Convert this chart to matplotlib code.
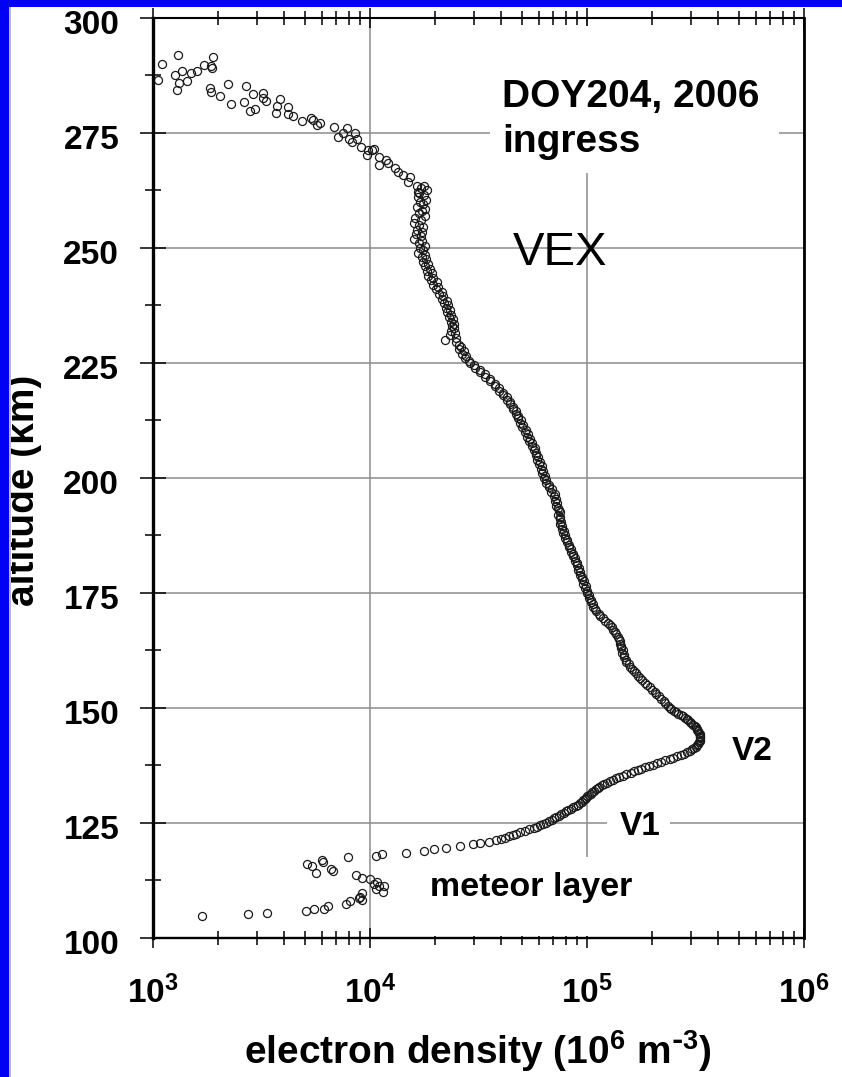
import numpy as np
import matplotlib
matplotlib.use("Agg")
import matplotlib.pyplot as plt
from matplotlib.patches import Rectangle
from matplotlib.ticker import FixedLocator, LogLocator, NullFormatter
import matplotlib.transforms as mtransforms

plt.rcParams['font.family'] = ['Liberation Sans', 'DejaVu Sans']
plt.rcParams['font.weight'] = 'bold'
plt.rcParams['mathtext.default'] = 'regular'

# ---------------- data (electron density in units of 1e3 x 1e6 m^-3) ----------------
# sparse points above the main layer
upper_alt = [286.5, 290.1, 292.0, 287.7, 288.5, 285.9, 284.3, 286.3, 288.0, 288.5,
             289.8, 291.6, 289.6, 289.1, 284.8, 284.0, 283.0, 285.6, 281.3, 285.2,
             281.7, 283.5, 279.8, 280.2, 283.8, 282.7, 282.0, 279.4, 280.9, 282.3,
             280.6, 279.1, 278.7, 277.7, 278.3, 277.8, 276.7, 277.2, 276.2, 274.2,
             275.1, 276.0, 273.8, 273.1, 274.9, 273.6, 272.0, 270.2, 271.3, 271.3,
             271.6, 269.7, 268.0, 269.2, 268.5, 267.3, 266.6, 265.9, 264.4, 265.5,
             263.4, 262.1]
upper_n = [1.05, 1.10, 1.31, 1.26, 1.36, 1.32, 1.29, 1.43, 1.50, 1.59,
           1.72, 1.90, 1.86, 1.88, 1.83, 1.86, 2.04, 2.22, 2.29, 2.68,
           2.63, 2.88, 2.80, 2.95, 3.20, 3.22, 3.31, 3.69, 3.71, 3.85,
           4.17, 4.20, 4.40, 4.84, 5.35, 5.45, 5.68, 5.88, 6.84, 7.14,
           7.48, 7.81, 8.03, 8.23, 8.53, 8.69, 9.06, 9.66, 9.83, 10.2,
           10.4, 11.0, 11.0, 11.9, 12.1, 13.0, 13.5, 14.2, 15.0, 15.3,
           16.4, 16.6]

# dense profile: topside down to the V2 peak and the V1 layer
profile_alt = [
    263.5, 263.0, 262.5, 262.0, 261.5, 261.0, 260.5, 260.0, 259.5, 259.0,
    258.5, 258.0, 257.5, 257.0, 256.5, 256.0, 255.5, 255.0, 254.5, 254.0,
    253.5, 253.0, 252.5, 252.0, 251.5, 251.0, 250.5, 250.0, 249.5, 249.0,
    248.5, 248.0, 247.5, 247.0, 246.5, 246.0, 245.5, 245.0, 244.5, 244.0,
    243.5, 243.0, 242.5, 242.0, 241.5, 241.0, 240.5, 240.0, 239.5, 239.0,
    238.5, 238.0, 237.5, 237.0, 236.5, 236.0, 235.5, 235.0, 234.5, 234.0,
    233.5, 233.0, 232.5, 232.0, 231.5, 231.0, 230.5, 230.0, 229.5, 229.0,
    228.5, 228.0, 227.5, 227.0, 226.5, 226.0, 225.5, 225.0,
    224.5, 224.0, 223.5, 223.0, 222.5, 222.0, 221.5, 221.0, 220.5, 220.0,
    219.5, 219.0, 218.5, 218.0, 217.5, 217.0, 216.5, 216.0, 215.5, 215.0,
    214.5, 214.0, 213.5, 213.0, 212.5, 212.0, 211.5, 211.0, 210.5, 210.0,
    209.5, 209.0, 208.5, 208.0, 207.5, 207.0, 206.5, 206.0, 205.5, 205.0,
    204.5, 204.0, 203.5, 203.0, 202.5, 202.0, 201.5, 201.0, 200.5, 200.0,
    199.5, 199.0, 198.5, 198.0, 197.5, 197.0, 196.5, 196.0, 195.5, 195.0,
    194.5, 194.0, 193.5, 193.0, 192.5, 192.0, 191.5, 191.0, 190.5, 190.0,
    189.5, 189.0, 188.5, 188.0, 187.5, 187.0, 186.5, 186.0, 185.5, 185.0,
    184.5, 184.0, 183.5, 183.0, 182.5, 182.0, 181.5, 181.0, 180.5, 180.0,
    179.5, 179.0, 178.5, 178.0, 177.5, 177.0, 176.5, 176.0, 175.5, 175.0,
    174.5, 174.0, 173.5, 173.0, 172.5, 172.0, 171.5, 171.0, 170.5, 170.0,
    169.5, 169.0, 168.5, 168.0, 167.5, 167.0, 166.5, 166.0, 165.5, 165.0,
    164.5, 164.0, 163.5, 163.0, 162.5, 162.0, 161.5, 161.0, 160.5, 160.0,
    159.5, 159.0, 158.5, 158.0, 157.5, 157.0, 156.5, 156.0, 155.5, 155.0,
    154.5, 154.0, 153.5, 153.0, 152.5, 152.0, 151.5, 151.0, 150.5, 150.0,
    149.7, 149.4, 149.1, 148.8, 148.5, 148.2, 147.9, 147.6, 147.3, 147.0,
    146.7, 146.4, 146.1, 145.8, 145.5, 145.2, 144.9, 144.6, 144.3, 144.0,
    143.7, 143.4, 143.1, 142.8, 142.5, 142.2, 141.9, 141.6, 141.3, 141.0,
    140.7, 140.4, 140.1, 139.8, 139.5, 139.2, 138.9, 138.6, 138.3, 138.0,
    137.7, 137.4, 137.1, 136.8, 136.5, 136.2, 135.9, 135.6, 135.3, 135.0,
    134.7, 134.4, 134.1, 133.8, 133.5, 133.2, 132.9, 132.6, 132.3, 132.0,
    131.7, 131.4, 131.1, 130.8, 130.5, 130.2, 129.9, 129.6, 129.3, 129.0,
    128.7, 128.4, 128.1, 127.8, 127.5, 127.2, 126.9, 126.6, 126.3, 126.0,
    125.7, 125.4, 125.1, 124.8, 124.5, 124.2, 123.9, 123.6, 123.3, 123.0,
    122.7]
profile_n = [
    17.8, 17.2, 18.3, 16.9, 17.8, 16.6, 18.1, 17.0, 17.6, 16.4,
    18.0, 17.3, 16.8, 17.9, 16.2, 17.1, 15.9, 16.8, 17.6, 16.5,
    17.4, 16.3, 17.1, 16.0, 17.3, 16.8, 17.9, 17.0, 17.5, 16.7,
    18.0, 17.4, 18.2, 17.6, 18.6, 17.9, 18.9, 18.3, 19.3, 18.6,
    19.6, 19.2, 20.3, 19.6, 20.5, 20.2, 21.4, 20.8, 21.8, 21.4,
    22.6, 22.0, 22.8, 22.3, 23.3, 22.7, 23.7, 23.2, 24.1, 23.5,
    24.4, 23.8, 24.5, 23.7, 24.6, 23.4, 24.9, 22.2, 25.0, 25.6,
    26.3, 25.8, 27.0, 26.6, 27.8, 27.5, 28.7, 28.9,
    30.2, 30.5, 32.1, 32.2, 33.9, 33.8, 35.6, 35.7, 37.6, 37.7,
    39.4, 39.3, 41.2, 41.0, 42.9, 42.7, 44.3, 44.2, 45.8, 45.6,
    47.2, 47.1, 48.3, 48.0, 49.4, 49.1, 50.6, 50.4, 52.1, 51.8,
    53.2, 52.9, 54.5, 54.0, 55.9, 55.5, 57.4, 57.0, 58.3, 57.9,
    59.4, 58.8, 60.5, 60.1, 61.9, 61.5, 62.6, 62.3, 63.9, 63.4,
    65.0, 64.8, 67.1, 66.8, 68.7, 68.5, 70.9, 70.4, 71.6, 71.3,
    72.5, 72.0, 73.8, 74.5, 74.9, 73.6, 75.1, 74.8, 76.0, 75.2,
    76.9, 76.5, 78.2, 77.6, 79.5, 79.2, 81.3, 80.8, 82.6, 82.4,
    84.6, 84.4, 86.2, 86.0, 88.1, 88.0, 89.6, 89.5, 91.4, 90.9,
    93.0, 92.7, 95.2, 94.9, 96.8, 96.3, 98.5, 98.0, 100.2, 99.6,
    102.3, 101.8, 104.5, 104.0, 106.1, 106.3, 109.0, 110.5, 113.5, 115.0,
    118.5, 121.0, 124.5, 127.0, 130.0, 132.0, 135.0, 136.0, 139.0, 140.5,
    142.5, 141.5, 144.0, 143.5, 146.0, 145.5, 148.0, 147.5, 151.0, 152.0,
    155.5, 157.0, 161.0, 164.0, 168.0, 171.0, 176.0, 180.0, 185.0, 190.0,
    195.0, 200.0, 205.0, 209.0, 215.0, 220.0, 226.0, 230.0, 236.0, 240.0,
    245, 251, 257, 263, 270, 276, 282, 288, 293, 298,
    303, 308, 313, 317, 320, 323, 326, 328, 330, 331,
    332, 333, 332, 331, 328, 325, 321, 318, 312, 305,
    297, 289, 280, 270, 260, 250, 240, 230, 220, 210,
    201, 193, 185, 178, 172, 165, 159, 152, 146, 140,
    136, 132, 127, 123, 120, 117, 114, 112, 110, 108,
    106, 104, 102, 100.5, 98.9, 97.7, 96.2, 94.4, 92.5, 90.9,
    88.6, 86.4, 84.2, 82.1, 80.0, 78.0, 76.1, 74.2, 72.3, 70.5,
    68.7, 66.8, 64.7, 62.7, 60.7, 58.8, 56.9, 54.3, 51.8, 49.1,
    47.0]

# bottomside chain below V1
lower_alt = [122.4, 122.1, 121.8, 121.5, 121.2, 120.9, 120.7, 120.4, 120.0, 119.6,
             119.3, 118.9, 118.5, 118.3, 117.8]
lower_n = [45.5, 43.6, 42.0, 40.2, 38.0, 35.3, 32.1, 29.9, 25.9, 22.3,
           19.8, 17.8, 14.6, 11.4, 10.7]

# meteor layer points
meteor_alt = [104.8, 105.2, 105.5, 105.9, 106.4, 106.2, 107.0, 107.5, 108.1, 108.6,
              108.3, 109.7, 109.0, 113.6, 113.1, 112.8, 112.2, 111.2, 111.3, 110.1,
              110.6, 111.8, 116.1, 115.7, 114.2, 117.0, 116.6, 115.1, 114.6, 117.5]
meteor_n = [1.69, 2.75, 3.34, 5.05, 5.52, 6.17, 6.41, 7.78, 8.13, 8.86,
            9.21, 9.14, 8.95, 8.61, 9.21, 9.95, 10.77, 10.99, 11.65, 11.42,
            10.69, 10.40, 5.10, 5.41, 5.63, 5.98, 6.09, 6.59, 6.77, 7.93]

y_ticks = [100, 125, 150, 175, 200, 225, 250, 275, 300]
x_ticks = [1e3, 1e4, 1e5, 1e6]

# ---------------- figure ----------------
W, H = 842, 1077
fig = plt.figure(figsize=(W / 100, H / 100), dpi=100)
fig.patch.set_facecolor('white')
ax = fig.add_axes([153 / W, 139 / H, 651 / W, 920 / H])

# blue frame pieces (left and top)
fig.add_artist(Rectangle((0, 0), 9 / W, 1, transform=fig.transFigure,
                         facecolor='#0000f5', edgecolor='none', zorder=10))
fig.add_artist(Rectangle((0, 1 - 7 / H), 1, 7 / H, transform=fig.transFigure,
                         facecolor='#0000f5', edgecolor='none', zorder=10))
fig.add_artist(Rectangle((9 / W, 0), 2 / W, 1 - 7 / H, transform=fig.transFigure,
                         facecolor='#b8b8b8', edgecolor='none', zorder=10))

mk = dict(linestyle='none', marker='o', markerfacecolor='none',
          markeredgecolor='#1a1a1a', markersize=5.8, markeredgewidth=0.9, zorder=2)
for alt, n in [(upper_alt, upper_n), (profile_alt, profile_n),
               (lower_alt, lower_n), (meteor_alt, meteor_n)]:
    ax.plot(np.array(n) * 1e3, np.array(alt), **mk)

ax.set_xscale('log')
ax.set_xlim(1e3, 1e6)
ax.set_ylim(100, 300)
ax.yaxis.set_major_locator(FixedLocator(y_ticks))
ax.yaxis.set_minor_locator(FixedLocator([112.5, 137.5, 162.5, 187.5, 212.5,
                                         237.5, 262.5, 287.5]))
ax.xaxis.set_major_locator(FixedLocator(x_ticks))
ax.xaxis.set_minor_locator(LogLocator(base=10, subs=np.arange(2, 10), numticks=20))
ax.xaxis.set_minor_formatter(NullFormatter())

ax.set_axisbelow(True)
ax.grid(True, which='major', color='#8c8c8c', linewidth=1.1)

ax.tick_params(axis='y', which='major', direction='inout', length=18.7, width=1.1,
               pad=15, labelsize=24, right=False)
ax.tick_params(axis='y', which='minor', direction='inout', length=11.5, width=1.1,
               right=False)
ax.tick_params(axis='x', which='major', direction='inout', length=14.4, width=1.1,
               pad=20, labelsize=24, top=True)
ax.tick_params(axis='x', which='minor', direction='inout', length=9.4, width=1.1,
               top=True)

ax.spines['left'].set_linewidth(2.4)
ax.spines['right'].set_linewidth(2.0)
ax.spines['top'].set_linewidth(1.5)
ax.spines['bottom'].set_linewidth(1.7)

off = mtransforms.ScaledTranslation(0, -4 / 100, fig.dpi_scale_trans)
for lab in ax.get_yticklabels():
    lab.set_transform(lab.get_transform() + off)

# white boxes behind annotations (hide grid lines)
for (x0, y0, w, h) in [(0.518, 0.8315, 0.444, 0.16),
                       (0.697, 0.1065, 0.097, 0.038),
                       (0.410, 0.002, 0.335, 0.086)]:
    ax.add_patch(Rectangle((x0, y0), w, h, transform=ax.transAxes,
                           facecolor='white', edgecolor='none', zorder=1.5))

tb = dict(transform=ax.transAxes, fontweight='bold', va='baseline', ha='left', zorder=3)
ax.text(0.536, 0.903, 'DOY204, 2006', fontsize=28, **tb)
ax.text(0.536, 0.854, 'ingress', fontsize=28, **tb)
ax.text(0.553, 0.7315, 'VEX', fontsize=34, transform=ax.transAxes,
        fontweight='normal', va='baseline', ha='left', zorder=3)
ax.text(0.889, 0.1935, 'V2', fontsize=24, **tb)
ax.text(0.717, 0.112, 'V1', fontsize=24, **tb)
ax.text(0.4255, 0.0457, 'meteor layer', fontsize=24.5, **tb)

fig.text(478 / W, 1 - 1064 / H, r'electron density (10$^{6}$ m$^{\text{-}3}$)',
         fontsize=28, fontweight='bold', ha='center', va='baseline')
fig.text(24 / W, 1 - 490 / H, 'altitude (km)', fontsize=28, fontweight='bold',
         rotation=90, ha='center', va='center')

fig.savefig('out.png', dpi=100, facecolor='white')
